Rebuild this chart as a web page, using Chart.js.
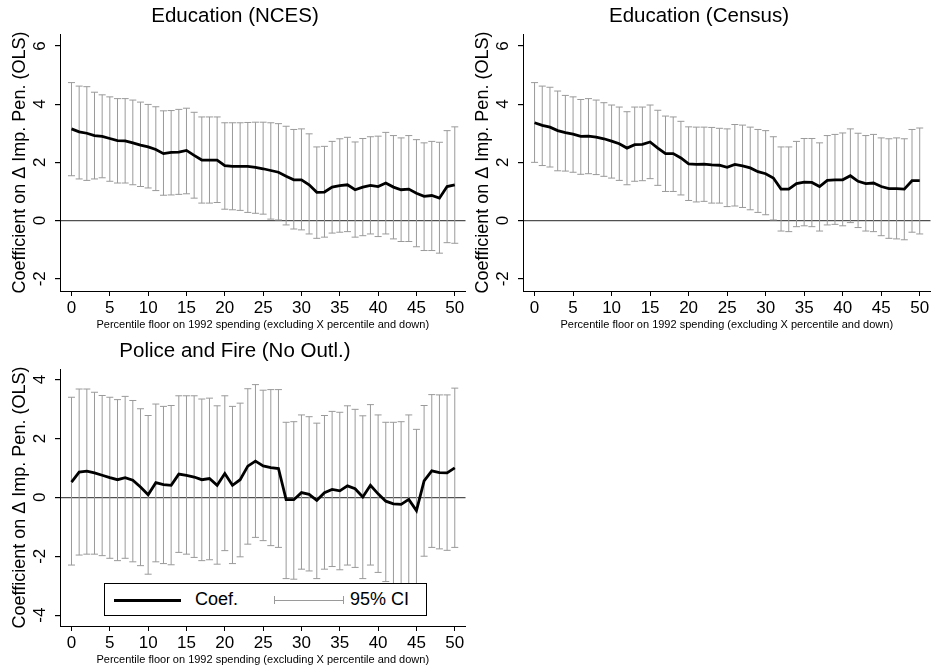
<!DOCTYPE html>
<html>
<head>
<meta charset="utf-8">
<script src="https://cdn.jsdelivr.net/npm/chart.js@4"></script>
<style>
html,body{margin:0;padding:0;background:#fff;}
body{width:935px;height:670px;position:relative;overflow:hidden;font-family:"Liberation Sans",Arial,Helvetica,sans-serif;}
.panel{position:absolute;}
#legend{position:absolute;left:104px;top:583px;width:321px;height:31px;border:1px solid #000;background:#fff;}
#legend .ln{position:absolute;left:9px;top:15px;width:67px;height:2.8px;background:#000;}
#legend .ci{position:absolute;left:169px;top:12px;width:68px;height:8px;border-left:1px solid #9a9a9a;border-right:1px solid #9a9a9a;}
#legend .ci:after{content:"";position:absolute;left:0;right:0;top:4px;height:1px;background:#9a9a9a;}
#legend span{position:absolute;top:5px;font-size:18px;line-height:20px;color:#000;}
</style>
</head>
<body>
<div class="panel" style="left:0;top:0;"><canvas id="c1" width="470" height="335"></canvas></div>
<div class="panel" style="left:463px;top:0;"><canvas id="c2" width="472" height="335"></canvas></div>
<div class="panel" style="left:0;top:335px;"><canvas id="c3" width="470" height="335"></canvas></div>
<div id="legend"><div class="ln"></div><span style="left:90px">Coef.</span><div class="ci"></div><span style="left:245px">95% CI</span></div>
<script>
// ---- data ----
const percentileFloor = [0,1,2,3,4,5,6,7,8,9,10,11,12,13,14,15,16,17,18,19,20,21,22,23,24,25,26,27,28,29,30,31,32,33,34,35,36,37,38,39,40,41,42,43,44,45,46,47,48,49,50];
const xTickValues = [0,5,10,15,20,25,30,35,40,45,50];

const ncesCoef = [3.15,3.05,3.00,2.92,2.89,2.82,2.75,2.74,2.67,2.59,2.53,2.44,2.30,2.34,2.35,2.41,2.24,2.08,2.08,2.08,1.89,1.86,1.86,1.86,1.83,1.78,1.72,1.66,1.52,1.40,1.40,1.23,0.97,0.98,1.15,1.20,1.23,1.06,1.15,1.21,1.17,1.29,1.15,1.06,1.08,0.94,0.83,0.86,0.77,1.17,1.23];
const ncesHigh = [4.74,4.62,4.60,4.41,4.32,4.25,4.19,4.19,4.14,4.07,3.99,3.91,3.77,3.78,3.82,3.86,3.72,3.56,3.56,3.56,3.36,3.36,3.36,3.37,3.38,3.38,3.36,3.33,3.24,3.13,3.15,2.98,2.53,2.55,2.72,2.81,2.86,2.70,2.82,2.88,2.90,3.03,2.92,2.84,2.92,2.78,2.67,2.72,2.69,3.09,3.22];
const ncesLow = [1.54,1.43,1.38,1.43,1.47,1.35,1.29,1.29,1.23,1.17,1.12,1.03,0.87,0.88,0.90,0.92,0.77,0.60,0.60,0.62,0.39,0.37,0.35,0.28,0.25,0.22,0.05,0.02,-0.15,-0.29,-0.32,-0.46,-0.61,-0.57,-0.43,-0.40,-0.38,-0.57,-0.52,-0.46,-0.55,-0.46,-0.63,-0.72,-0.72,-0.90,-1.03,-1.03,-1.12,-0.76,-0.78];

const censusCoef = [3.36,3.27,3.21,3.09,3.02,2.97,2.89,2.90,2.87,2.81,2.73,2.64,2.49,2.61,2.62,2.70,2.49,2.30,2.30,2.15,1.95,1.93,1.94,1.91,1.90,1.83,1.93,1.88,1.81,1.68,1.61,1.46,1.08,1.08,1.27,1.32,1.31,1.17,1.38,1.40,1.40,1.54,1.35,1.27,1.29,1.17,1.10,1.10,1.08,1.37,1.37];
const censusHigh = [4.74,4.62,4.58,4.45,4.30,4.25,4.16,4.19,4.14,4.05,3.97,3.90,3.74,3.90,3.90,3.97,3.79,3.59,3.56,3.41,3.22,3.21,3.21,3.20,3.17,3.15,3.30,3.28,3.21,3.13,3.09,2.88,2.53,2.53,2.72,2.82,2.82,2.67,2.92,2.96,3.01,3.15,3.00,2.92,2.96,2.84,2.81,2.84,2.81,3.13,3.18];
const censusLow = [2.00,1.89,1.84,1.71,1.70,1.66,1.59,1.61,1.58,1.52,1.46,1.38,1.23,1.35,1.37,1.44,1.21,1.00,1.00,0.88,0.69,0.64,0.66,0.60,0.60,0.48,0.50,0.45,0.37,0.28,0.20,0.02,-0.36,-0.38,-0.21,-0.18,-0.21,-0.36,-0.15,-0.13,-0.18,-0.07,-0.24,-0.36,-0.38,-0.52,-0.61,-0.63,-0.66,-0.40,-0.46];

const policeCoef = [0.52,0.86,0.89,0.83,0.75,0.67,0.60,0.67,0.58,0.35,0.09,0.50,0.43,0.41,0.79,0.75,0.69,0.60,0.64,0.41,0.81,0.41,0.60,1.06,1.23,1.07,1.01,0.98,-0.08,-0.08,0.16,0.10,-0.10,0.16,0.27,0.22,0.39,0.29,0.01,0.41,0.12,-0.13,-0.22,-0.24,-0.07,-0.45,0.56,0.90,0.84,0.83,1.00];
const policeHigh = [3.40,3.68,3.68,3.57,3.46,3.40,3.32,3.43,3.29,3.01,2.78,3.17,3.09,3.12,3.45,3.45,3.45,3.34,3.37,3.11,3.45,3.09,3.20,3.69,3.83,3.64,3.66,3.66,2.55,2.57,2.80,2.74,2.52,2.78,2.92,2.89,3.11,2.99,2.77,3.15,2.80,2.55,2.55,2.57,2.80,2.31,3.12,3.49,3.48,3.48,3.71];
const policeLow = [-2.30,-1.96,-1.93,-1.93,-1.98,-2.07,-2.15,-2.07,-2.19,-2.32,-2.61,-2.19,-2.25,-2.29,-1.87,-1.93,-2.04,-2.15,-2.12,-2.27,-1.81,-2.25,-2.02,-1.59,-1.36,-1.47,-1.64,-1.70,-2.76,-2.78,-2.44,-2.50,-2.76,-2.44,-2.35,-2.46,-2.30,-2.38,-2.76,-2.30,-2.55,-2.86,-3.05,-2.98,-2.94,-3.25,-2.00,-1.70,-1.75,-1.80,-1.70];

const eduYTicks = [-2,0,2,4,6];
const policeYTicks = [-4,-2,0,2,4];

const yTitle = 'Coefficient on \u0394 Imp. Pen. (OLS)';
const xTitle = 'Percentile floor on 1992 spending (excluding X percentile and down)';

// ---- drawing ----
Chart.defaults.font.family = '"Liberation Sans", Arial, Helvetica, sans-serif';
Chart.defaults.color = '#000';
const GRAY = '#9a9a9a';

function makeChart(id, title, coef, low, high, yMin, yMax, yTicks) {
  const ciData = [];
  percentileFloor.forEach((x, i) => {
    ciData.push({x: x, y: low[i]}, {x: x, y: high[i]}, {x: x, y: null});
  });
  const coefData = percentileFloor.map((x, i) => ({x: x, y: coef[i]}));
  return new Chart(document.getElementById(id), {
    type: 'line',
    data: {datasets: [
      {label: '95% CI', data: ciData, borderColor: GRAY, borderWidth: 1, spanGaps: false,
       pointStyle: 'line', pointRadius: 3.5, pointHoverRadius: 3.5, pointBorderColor: GRAY,
       pointBackgroundColor: GRAY, pointBorderWidth: 1, order: 2},
      {label: 'Coef.', data: coefData, borderColor: '#000', borderWidth: 2.8, pointRadius: 0,
       pointHoverRadius: 0, tension: 0, order: 1}
    ]},
    options: {
      responsive: false, animation: false, events: [],
      layout: {padding: 0},
      plugins: {
        legend: {display: false}, tooltip: {enabled: false},
        title: {display: true, text: title, color: '#000', font: {size: 20.5, weight: 'normal'}, padding: {top: 4, bottom: 5.4}}
      },
      scales: {
        x: {
          type: 'linear', min: -1.5, max: 51.4,
          afterBuildTicks: a => { a.ticks = xTickValues.map(v => ({value: v})); },
          afterFit: s => { s.height = 44; },
          grid: {drawOnChartArea: false, drawTicks: true, tickLength: 5, tickColor: '#000'},
          border: {display: true, color: '#000', width: 1},
          ticks: {font: {size: 17}, padding: 1.8, maxRotation: 0, minRotation: 0, color: '#000'},
          title: {display: true, text: xTitle, font: {size: 11}, padding: {top: 0, bottom: 3.4}, color: '#000'}
        },
        y: {
          type: 'linear', min: yMin, max: yMax,
          afterBuildTicks: a => { a.ticks = yTicks.map(v => ({value: v})); },
          afterFit: s => { s.width = 60; },
          grid: {drawOnChartArea: true, drawTicks: true, tickLength: 5, tickColor: '#000',
                 color: c => (c.tick && c.tick.value === 0) ? '#505050' : 'rgba(0,0,0,0)', lineWidth: 1.2},
          border: {display: true, color: '#000', width: 1},
          ticks: {font: {size: 17}, padding: 7.5, minRotation: 90, maxRotation: 90, crossAlign: 'center', color: '#000'},
          title: {display: true, text: yTitle, font: {size: 18}, padding: {top: 9, bottom: 0}, color: '#000'}
        }
      }
    }
  });
}

makeChart('c1', 'Education (NCES)', ncesCoef, ncesLow, ncesHigh, -2.42, 6.41, eduYTicks);
makeChart('c2', 'Education (Census)', censusCoef, censusLow, censusHigh, -2.42, 6.41, eduYTicks);
makeChart('c3', 'Police and Fire (No Outl.)', policeCoef, policeLow, policeHigh, -4.37, 4.36, policeYTicks);
</script>
</body>
</html>
